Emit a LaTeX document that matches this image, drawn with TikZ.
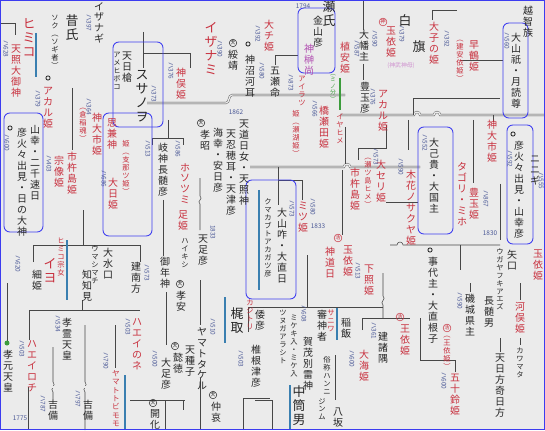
\documentclass[tikz,border=0pt]{standalone}
\usepackage{fontspec}
\newfontfamily\jp{Noto Sans CJK JP}
\definecolor{paper}{HTML}{EBEBEB}
\definecolor{ink}{HTML}{262626}
\definecolor{inkred}{HTML}{C8303E}
\definecolor{inkblue}{HTML}{4A5896}
\definecolor{inkpurple}{HTML}{B04CB0}
\definecolor{inkgreen}{HTML}{3C9C3C}
\definecolor{frame}{HTML}{3C3CF0}
\definecolor{barblue}{HTML}{3A7FB0}
% vertical text: one character per line
\def\vtl#1{\ifx\relax#1\else\hbox to 1.05em{\hss#1\hss}\expandafter\vtl\fi}
\newcommand\vt[1]{\vbox{\baselineskip=1.1em\lineskiplimit=-20pt\vtl#1\relax}}
\begin{document}
\begin{tikzpicture}[x=0.03cm, y=-0.03cm,
    bk/.style={anchor=north, inner sep=0pt, text=ink, font=\jp\fontsize{8.5}{9}\selectfont},
    bkL/.style={bk, font=\jp\fontsize{11}{12}\selectfont},
    bks/.style={bk, font=\jp\fontsize{6.2}{7}\selectfont},
    rd/.style={bk, text=inkred},
    rdL/.style={bkL, text=inkred},
    rds/.style={bks, text=inkred},
    pu/.style={bk, text=inkpurple},
    nb/.style={anchor=west, rotate=-90, inner sep=0pt, text=inkblue, font=\jp\fontsize{5.5}{6}\selectfont},
    nbh/.style={inner sep=0pt, text=inkblue, font=\jp\fontsize{5.5}{6}\selectfont},
    cir/.style={circle, draw=ink, inner sep=0.2pt, text=ink, font=\jp\fontsize{4.5}{5}\selectfont},
    rcir/.style={cir, draw=inkred, text=inkred},
    ring/.style={circle, draw=ink, line width=0.7pt, inner sep=0pt, minimum size=3.6pt},
    grp/.style={draw=frame, rounded corners=5pt, line width=0.75pt},
    ln/.style={draw=ink!85, line width=0.45pt},
    dl/.style={draw=ink!80, double=paper, double distance=1.1pt, line width=0.35pt},
    bar/.style={draw=barblue, line width=0.9pt}
]
\useasboundingbox (0,0) rectangle (545,430);
\fill[paper] (0,0) rectangle (545,430);
\clip (0,0) rectangle (545,430);

% lines, top
\draw[ln] (0,23) -- (15,23) -- (15,35);
\draw[dl] (107,32) -- (195,32);
\draw[ln] (143,32) -- (143,68);
\draw[ln] (143,53) -- (190,53) -- (190,68);
\draw[dl] (53,88) -- (143,88);
\draw[ln] (72,88) -- (72,150);
\draw[dl] (188,75) -- (245,75);
\draw[dl] (147,103) -- (226,103) .. controls (230,103) and (228,95) .. (232,95) -- (345,95);
\draw[ln] (275,65) -- (275,55) -- (298,55);
\draw[dl] (283,34) -- (300,34);
\draw[ln] (363,0) -- (363,30);
\draw[ln] (363,64) -- (363,80);
\draw[ln] (432,20) -- (432,10) -- (457,10);
\draw[dl] (340,115) -- (414,115) arc[start angle=180, end angle=360, radius=3] -- (434,115) arc[start angle=180, end angle=360, radius=3] -- (545,115);
\draw[ln] (413,115) -- (413,98) -- (500,98);
\draw[ln] (460,60) -- (503,60);
\draw[ln] (493,115) -- (493,122);

% lines, middle
\draw[dl] (250,167) -- (344,167) arc[start angle=180, end angle=360, radius=3] -- (420,167);
\draw[ln] (345,127) -- (345,164);
\draw[ln] (278,167) -- (278,205);
\draw[ln] (278,180) -- (302,180) -- (302,200);
\draw[ln] (358,160) -- (358,148) -- (386,148) -- (386,125);
\draw[ln] (342,170) -- (342,235);
\draw[dl] (347,247) -- (400,247);
\draw[ln] (386,202) -- (418,202);
\draw[dl] (45,210) -- (103,210);
\draw[ln] (83,210) -- (83,245);
\draw[ln] (33,262) -- (33,245) -- (140,245) -- (140,262);
\draw[dl] (130,200) -- (203,200);
\draw[ln] (163,200) -- (163,256);
\draw[ln] (200,177) -- (200,196) .. controls (204,199) and (196,201) .. (200,204) -- (200,230);
\draw[dl] (192,177) -- (215,177);
\draw[ln] (152,145) -- (152,138) -- (183,138) -- (183,145);
\draw[ln] (168,120) -- (168,138);
\draw[ln] (473,120) -- (473,184);
\draw[dl] (453,195) -- (462,195);
\draw[dl] (473,184) -- (507,184);
\draw[ln] (500,184) -- (500,240);
\draw[ln] (390,245) -- (397,245) arc[start angle=180, end angle=360, radius=3] -- (500,245);
\draw[ln] (460,245) -- (460,270);
\draw[ln] (408,120) -- (408,150);

% lines, bottom
\draw[dl] (0,283) -- (27,283);
\draw[ln] (7,283) -- (7,345);
\draw[ln] (29,340) -- (29,310) -- (140,310);
\draw[ln] (82,300) -- (82,310);
\draw[dl] (75,325) -- (115,325);
\draw[ln] (85,325) -- (85,382) .. controls (89,385) and (81,389) .. (85,392) -- (85,430);
\draw[ln] (115,325) -- (115,368);
\draw[dl] (38,347) -- (63,347);
\draw[ln] (53,347) -- (53,382) .. controls (57,385) and (49,389) .. (53,392) -- (53,400);
\draw[dl] (15,387) -- (130,387);
\draw[ln] (28,387) -- (28,430);
\draw[ln] (166,292) -- (166,345);
\draw[ln] (200,280) -- (200,325);
\draw[ln] (200,378) -- (200,430);
\draw[ln] (130,400) -- (185,400);
\draw[ln] (165,400) -- (165,430);
\draw[ln] (183,400) -- (183,410);
\draw[ln] (248,332) -- (248,307) -- (270,307);
\draw[ln] (243,430) -- (243,398) -- (270,398);
\draw[ln] (307,255) -- (307,307);
\draw[ln] (265,307) -- (383,307);
\draw[ln] (383,272) -- (383,296) .. controls (387,299) and (379,302) .. (383,305) -- (383,318);
\draw[dl] (373,272) -- (405,272);
\draw[ln] (362,330) -- (362,318) -- (410,318);
\draw[dl] (312,355) -- (333,355);
\draw[ln] (335,355) -- (335,400);
\draw[ln] (255,400) -- (272,400) -- (272,430);
\draw[dl] (445,283) -- (545,283);
\draw[ln] (470,283) -- (470,292);
\draw[ln] (520,283) -- (520,300);
\draw[ln] (420,318) -- (420,360) -- (455,360) -- (455,372);
\draw[dl] (480,338) -- (545,338);
\draw[ln] (500,338) -- (500,352);
\draw[ln] (520,338) -- (520,345);

% blue bars
\draw[bar] (36,33) -- (36,77);
\draw[bar] (259,190) -- (259,290);
\draw[bar] (67,240) -- (67,300);
\draw[bar] (125,375) -- (125,430);
\draw[bar] (225,297) -- (225,343);
\draw[bar] (290,385) -- (290,430);
\draw[bar] (337,308) -- (337,340);
\draw[inkgreen, line width=1pt] (340,78) -- (340,110);
\fill[inkgreen] (7,343) circle (2.5);

% groups
\draw[grp] (113,42) rectangle (163,127);
\draw[grp] (103,113) rectangle (152,236);
\draw[grp] (4,113) rectangle (43,232);
\draw[grp] (298,8) rectangle (335,73);
\draw[grp] (246,180) rectangle (296,299);
\draw[grp] (418,127) rectangle (453,234);
\draw[grp] (507,125) rectangle (533,244);
\draw[grp] (503,23) rectangle (528,118);

% names, top left
\node[bk] (izanagi) at (99,2) {\vt{イザナギ}};
\node[nb] (izanagiY) at (89,14) {ハ397};
\node[bkL] (mukashi) at (72,14) {\vt{昔氏}};
\node[bks] (soku) at (55,15) {\vt{ソク︵ソギ者︶}};
\node[rdL] (himiko) at (29,18) {\vt{ヒミコ}};
\node[rd] (amaterasu) at (16,45) {\vt{天照大御神}};
\node[nb] (amaterasuY) at (6,40) {ハ628};
\node[ring] (akaruO) at (48,78) {};
\node[rd] (akaru) at (48,87) {\vt{アカル姫}};
\node[nb] (akaruY) at (38,90) {ハ379};

% names, groups left
\node[bk] (hiboko) at (127,52) {\vt{天日槍}};
\node[bks] (hibokoK) at (117,52) {\vt{アメヒボコ}};
\node[bkL] (susanowo) at (142,70) {\vt{スサノヲ}};
\node[nb] (susanowoY) at (154,85) {ハ373};
\node[rd] (omoikane) at (112,118) {\vt{思兼神}};
\node[rds] (shinatsu) at (126,140) {\vt{姫︵支那ツ姫︶}};
\node[rd] (ohirume) at (113,178) {\vt{大日姫}};
\node[nb] (ohirumeY) at (104,170) {ハ686};
\node[rd] (kamuoichi) at (97,113) {\vt{神大市姫}};
\node[rds] (ukano) at (83,108) {\vt{︵倉稲魂︶}};
\node[nb] (kamuoichiY) at (89,98) {ハ364};
\node[rd] (ichiki) at (72,152) {\vt{市杵島姫}};
\node[rd] (munakata) at (59,156) {\vt{宗像姫}};
\node[nb] (munakataY) at (49,155) {ハ403};
\node[ring] (hohodemiO) at (10,128) {};
\node[nb] (hohodemiY) at (7,134) {ハ600};
\node[bk] (hohodemi) at (22,128) {\vt{彦火々出見・日の大神}};
\node[bk] (yamasachi) at (35,125) {\vt{山幸・二千速日}};

% names, top middle
\node[rdL] (izanami) at (211,22) {\vt{イザナミ}};
\node[nb] (izanamiY) at (220,40) {ハ390};
\node[rd] (kamumata) at (181,68) {\vt{神俣姫}};
\node[nb] (kamumataY) at (171,62) {ハ376};
\node[cir] (suizeiC) at (233,43) {天};
\node[bk] (suizei) at (233,50) {\vt{綏靖}};
\node[ring] (kamununaO) at (248,44) {};
\node[bk] (kamununa) at (250,55) {\vt{神沼河耳}};
\node[bk] (itsuse) at (275,67) {\vt{五瀬命}};
\node[nb] (itsuseY) at (262,62) {ハ580};
\node[rd] (ochi) at (269,20) {\vt{大チ姫}};
\node[nb] (ochiY) at (258,25) {ハ392};
\node[nbh] (kanayamaY) at (303,6) {1794};
\node[bk] (kanayama) at (318,16) {\vt{金山彦}};
\node[pu] (kamuhisa) at (309,44) {\vt{神榊尚}};
\node[bkL] (takiuji) at (329,0) {\vt{瀬氏}};
\node[rd] (ueyasu) at (345,42) {\vt{植安姫}};
\node[nb] (ueyasuY) at (357,40) {ハ587};
\node[bk] (ohatanushi) at (364,30) {\vt{大幡主}};
\node[rcir] (tamayoriC) at (383,22) {神};
\node[rd] (tamayori) at (391,27) {\vt{玉依姫}};
\node[nb] (tamayoriY) at (375,30) {ハ590};
\node[nb] (tamayoriY2) at (402,25) {ハ379};
\node[inner sep=0pt, text=inkpurple!60, font=\jp\fontsize{5}{6}\selectfont] (jinmuhaha) at (401,66) {(神武神母)};
\node[bkL] (shiro) at (405,14) {白};
\node[bkL] (hata) at (419,40) {旗};
\node[rd] (ohko) at (434,22) {\vt{大子の姫}};
\node[nb] (ohkoY) at (447,30) {ハ392};
\node[rd] (hayatsuru) at (474,40) {\vt{早鶴姫}};
\node[rds] (takeyasu) at (460,40) {\vt{︵建安依姫︶}};
\node[bk] (ochizoku) at (528,6) {\vt{越智族}};
\node[bk] (oyamatsumi) at (516,33) {\vt{大山祇・月読尊}};
\node[nb] (oyamatsumiY) at (507,32) {ハ560};

% names, middle
\node[bk] (toyotama) at (365,82) {\vt{豊玉彦}};
\node[rd] (akaru2) at (383,90) {\vt{アカル姫}};
\node[nb] (akaru2Y) at (373,88) {ハ376};
\node[text=inkgreen, anchor=north, inner sep=0pt, font=\jp\fontsize{5}{5}\selectfont] (minowake) at (333,74) {\vt{︵ミノ分︶}};
\node[rd] (hashiseda) at (324,106) {\vt{橋瀬田姫}};
\node[rds] (iyahime) at (340,114) {\vt{イヤヒメ}};
\node[nb] (hashisedaY) at (315,100) {ハ566};
\node[rds] (sekohime) at (296,110) {\vt{姫︵瀬湖姫︶}};
\node[rds] (airatsu) at (302,76) {\vt{アイラツ}};
\node[nb] (airatsuY) at (291,74) {ハ873};
\node[nbh] (year1862) at (236,112) {1862};
\node[bk] (kunado) at (163,143) {\vt{岐神長髄彦}};
\node[nb] (kunadoY) at (148,140) {ハ513};
\node[rd] (hosotsu) at (185,163) {\vt{ホソツミ}};
\node[nb] (hosotsuY) at (178,140) {ハ586};
\node[rd] (ashihime) at (183,210) {\vt{足姫}};
\node[cir] (koshoC) at (201,123) {天};
\node[bk] (kosho) at (205,130) {\vt{孝昭}};
\node[bk] (umisachi) at (218,128) {\vt{海幸・安日彦}};
\node[bk] (oshihomimi) at (231,130) {\vt{天忍穂耳・天津彦}};
\node[bk] (amemichi) at (244,120) {\vt{天道日女・天照神}};
\node[nb] (ametariY) at (213,225) {1833};
\node[bk] (ametari) at (203,235) {\vt{天足彦}};
\node[bks] (haikishi) at (185,238) {\vt{ハイキシ}};
\node[bk] (mitoshi) at (165,257) {\vt{御年神}};
\node[bks] (kumakabuto) at (268,198) {\vt{クマカブトアカガツ彦}};
\node[bk] (oyamakui) at (282,208) {\vt{大山咋・大直日}};
\node[nb] (oyamakuiY) at (292,200) {ハ573};
\node[rd] (mitsu) at (303,202) {\vt{ミツ姫}};
\node[nb] (mitsuY) at (313,198) {ハ580};
\node[nbh] (year1833) at (318,226) {1833};
\node[rcir] (shindouC) at (338,238) {活};
\node[rd] (shindou) at (330,247) {\vt{神道日}};
\node[rd] (tamayori2) at (348,246) {\vt{玉依姫}};
\node[rd] (shitateru) at (369,265) {\vt{下照姫}};
\node[nb] (shitateruY) at (358,262) {ハ513};
\node[rd] (oseri) at (381,160) {\vt{大セリ姫}};
\node[rds] (setsuhime) at (368,158) {\vt{︵瀬ツ島ヒメ︶}};
\node[rd] (ichiki2) at (355,168) {\vt{市杵島姫}};
\node[nb] (oseriY) at (376,148) {ハ573};

% names, right
\node[bk] (onamuchi) at (434,138) {\vt{大己貴・大国主}};
\node[nb] (onamuchiY) at (425,134) {ハ552};
\node[rd] (konohana) at (411,170) {\vt{木花ノサクヤ姫}};
\node[nb] (konohanaY) at (401,158) {ハ590};
\node[rd] (tagori) at (462,162) {\vt{タゴリ・ミホ}};
\node[rd] (toyotamahime) at (474,188) {\vt{豊玉姫}};
\node[nb] (toyotamahimeY) at (486,190) {ハ867};
\node[rd] (kamuoichi2) at (492,120) {\vt{神大市姫}};
\node[ring] (hohodemi2O) at (513,134) {};
\node[bk] (hohodemi2) at (519,141) {\vt{彦火々出見・山幸彦}};
\node[nb] (hohodemi2Y) at (510,150) {ハ592};
\node[bk] (ninigi) at (535,156) {\vt{ニニギ}};
\node[nb] (ninigiY) at (541,172) {ハ555};
\node[ring] (kotoshiroO) at (430,250) {};
\node[bk] (kotoshiro) at (433,257) {\vt{事代主・大直根子}};
\node[bks] (ugaya) at (500,248) {\vt{ウガヤフキアエズ}};
\node[nbh] (year1830) at (490,233) {1830};
\node[bk] (yaguchi) at (512,250) {\vt{矢口}};
\node[rd] (tamayori3) at (538,250) {\vt{玉依姫}};
\node[bk] (shikiagata) at (470,294) {\vt{磯城県主}};
\node[nb] (shikiagataY) at (460,292) {ハ590};
\node[bk] (nagasuneo) at (489,296) {\vt{長髄男}};
\node[rd] (kawamata) at (520,302) {\vt{河俣姫}};
\node[rcir] (tamayori5C) at (447,328) {活};
\node[rds] (tamayori5) at (447,336) {\vt{︵王依姫︶}};
\node[rd] (isuzu) at (455,374) {\vt{五十鈴姫}};
\node[nb] (isuzuY) at (444,372) {ハ600};
\node[bk] (hikata) at (500,354) {\vt{天日方奇日方}};
\node[bks] (kawamataK) at (520,348) {\vt{カワマタ}};

% names, bottom left
\node[rdL] (iyo) at (50,258) {\vt{イヨ}};
\node[rds] (sojo) at (61,238) {\vt{ヒミコ宗女}};
\node[bk] (hosohime) at (37,270) {\vt{細姫}};
\node[nb] (hosohimeY) at (18,255) {ハ620};
\node[bk] (minakuchi) at (108,248) {\vt{大水口}};
\node[bks] (umashima) at (95,245) {\vt{ウマシマチ}};
\node[bk] (wachi) at (87,270) {\vt{知知見}};
\node[bk] (korei) at (67,318) {\vt{孝霊天皇}};
\node[nb] (koreiY) at (58,315) {ハ534};
\node[rd] (haeirochi) at (32,340) {\vt{ハエイロチ}};
\node[nb] (haeirochiY) at (22,340) {ハ503};
\node[rd] (haeinone) at (137,318) {\vt{ハエイのネ}};
\node[nb] (haeinoneY) at (128,318) {ハ503};
\node[bk] (kogen) at (8,350) {\vt{孝元天皇}};
\node[bk] (kibi1) at (53,400) {\vt{吉備}};
\node[nb] (kibi1Y) at (43,395) {ハ787};
\node[bk] (kibi2) at (88,400) {\vt{吉備}};
\node[nb] (kibi2Y) at (78,390) {ハ797};
\node[rd, font=\jp\fontsize{6.5}{7}\selectfont] (momoso) at (116,370) {\vt{ヤマトトビモモ}};
\node[nb] (momosoY) at (106,352) {ハ790};
\node[nbh] (year1775) at (20,418) {1775};

% names, bottom middle
\node[bk] (takeminakata) at (136,262) {\vt{建南方}};
\node[nb] (takeminakataY) at (147,264) {ハ573};
\node[cir] (koanC) at (180,284) {天};
\node[bk] (koan) at (181,291) {\vt{孝安}};
\node[bk] (yamatotakeru) at (202,327) {\vt{ヤマトタケル}};
\node[nb] (yamatotakeruY) at (213,318) {ハ510};
\node[cir] (itokuC) at (175,346) {天};
\node[bk] (itoku) at (178,353) {\vt{懿徳}};
\node[bk] (amatane) at (190,346) {\vt{天種子}};
\node[bk] (otarashi) at (166,358) {\vt{大足彦}};
\node[nb] (otarashiY) at (155,350) {ハ500};
\node[cir] (chuaiC) at (213,395) {天};
\node[bk] (chuai) at (216,402) {\vt{仲哀}};
\node[cir] (kaikaC) at (153,403) {天};
\node[bk] (kaika) at (155,409) {\vt{開化}};
\node[bkL] (kajitori) at (237,307) {\vt{梶取}};
\node[rds] (kajitoriK) at (250,300) {\vt{カジトリ}};
\node[bk] (shiinetsu) at (256,345) {\vt{椎根津彦}};
\node[nb] (shiinetsuY) at (241,350) {ハ503};
\node[bk] (yamatohiko) at (260,310) {\vt{倭彦}};

% names, bottom right
\node[bk] (kamowake) at (308,337) {\vt{賀茂別雷神}};
\node[bks] (tsunuga) at (283,310) {\vt{ツヌガアラシト}};
\node[bks] (mikeiri) at (294,315) {\vt{ミケキ入・ミケ入}};
\node[nb] (kamowakeY) at (304,305) {ハ608};
\node[bkL] (nakatsutsu) at (299,385) {\vt{中筒男}};
\node[bk] (saniwa) at (322,310) {\vt{審神者}};
\node[rds] (saniwaK) at (331,310) {\vt{サニワ}};
\node[bk] (inai) at (346,318) {\vt{稲飯}};
\node[bks] (zokusho) at (327,356) {\vt{俗称ハンニ}};
\node[bks] (jinmu) at (322,398) {\vt{ジンム}};
\node[bk] (yasaka) at (338,408) {\vt{八坂}};
\node[bk] (takemoro) at (383,332) {\vt{建諸隅}};
\node[nb] (takemoroY) at (374,322) {ハ361};
\node[rd] (oama) at (364,350) {\vt{大海姫}};
\node[nb] (oamaY) at (352,350) {ハ600};
\node[rcir] (tamayori4C) at (400,317) {活};
\node[rd] (tamayori4) at (405,325) {\vt{王依姫}};

% outer frame
\draw[frame, line width=1pt] (0.5,0.5) rectangle (544.5,429.5);
\end{tikzpicture}
\end{document}
